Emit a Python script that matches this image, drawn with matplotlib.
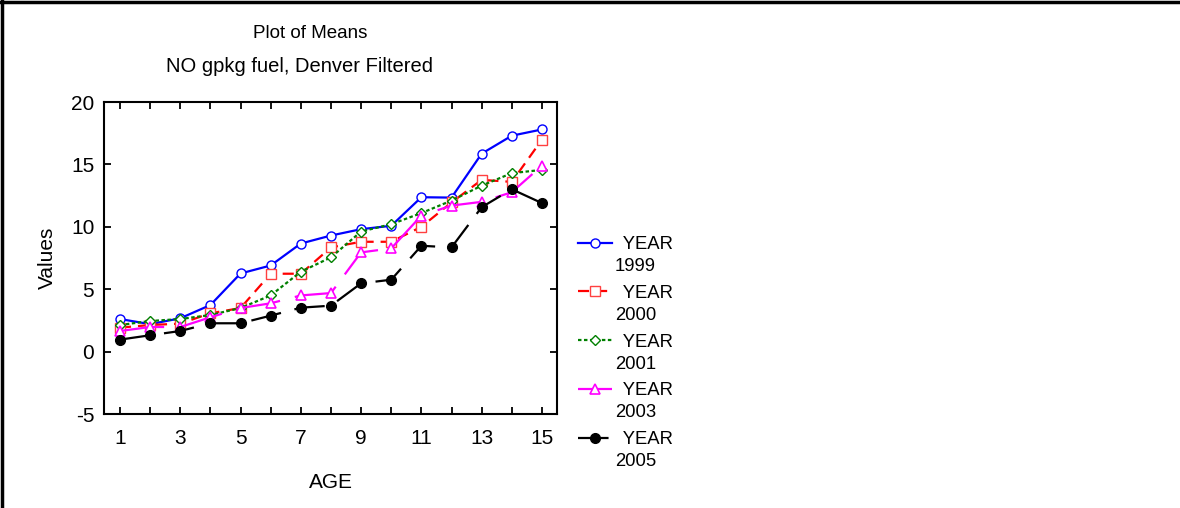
import matplotlib.pyplot as plt
import matplotlib.lines as mlines

plt.rcParams["font.family"] = ["Liberation Sans", "DejaVu Sans"]
plt.rcParams["lines.scale_dashes"] = False
plt.rcParams["axes.unicode_minus"] = False

# Mean values by age for each year
age = list(range(1, 16))
y1999 = [2.61, 2.2, 2.67, 3.73, 6.26, 6.9, 8.66, 9.3, 9.81, 10.08, 12.37, 12.34, 15.86, 17.3, 17.8]
y2000 = [1.92, 2.13, 2.24, 3.07, 3.49, 6.24, 6.24, 8.35, 8.8, 8.8, 10.0, 11.95, 13.76, 13.6, 16.98]
y2001 = [2.13, 2.45, 2.61, 2.93, 3.49, 4.5, 6.4, 7.55, 9.62, 10.21, 11.1, 12.1, 13.3, 14.3, 14.56]
y2003 = [1.65, 1.97, 1.97, 2.75, 3.49, 3.87, 4.5, 4.69, 7.95, 8.27, 10.9, 11.7, 12.0, 12.77, 14.9]
y2005 = [0.96, 1.31, 1.65, 2.27, 2.27, 2.88, 3.52, 3.68, 5.47, 5.76, 8.48, 8.35, 11.57, 13.01, 11.9]

years = ["1999", "2000", "2001", "2003", "2005"]
series = [y1999, y2000, y2001, y2003, y2005]

W, H = 1180, 508
fig = plt.figure(figsize=(W / 100, H / 100), dpi=100)
ax = fig.add_axes([104 / W, (H - 414) / H, 453 / W, 312 / H])

styles = [
    dict(color="#0000ff", ls="-", lw=1.6, marker="o", ms=6.5, mfc="white", mec="#0000ff", mew=1),
    dict(color="#ff0000", ls=(0, (8, 5)), lw=1.6, marker="s", ms=6.5, mfc="white", mec="#ff4040", mew=1),
    dict(color="#008000", ls=(0, (2.5, 1.8)), lw=1.6, marker="D", ms=4.8, mfc="white", mec="#008000", mew=1),
    dict(color="#ff00ff", ls=(0, (32, 11)), lw=1.6, marker="^", ms=7, mfc="white", mec="#ff00ff", mew=1.2),
    dict(color="black", ls=(0, (22, 10)), lw=1.6, marker="o", ms=7, mfc="black", mec="black", mew=1),
]

handles = []
for vals, st in zip(series, styles):
    line, = ax.plot(age, vals, **st)
    handles.append(line)

ax.set_xlim(0.47, 15.5)
ax.set_ylim(-5, 20)
ax.set_xticks(range(1, 16))
ax.set_xticklabels([str(a) if a % 2 == 1 else "" for a in age])
ax.set_yticks(range(-5, 21, 5))
ax.tick_params(direction="in", length=5, width=1.3, top=True, right=True, labelsize=15)
ax.tick_params(axis="x", pad=11)
ax.tick_params(axis="y", pad=7)
for sp in ax.spines.values():
    sp.set_linewidth(1.5)

ax.set_xlabel("AGE", fontsize=15, labelpad=18)
ax.set_ylabel("Values", fontsize=15, labelpad=10)

fig.text(310 / W, 1 - 33 / H, "Plot of Means", ha="center", va="center", fontsize=13.5)
fig.text(299 / W, 1 - 67 / H, "NO gpkg fuel, Denver Filtered", ha="center", va="center", fontsize=14.5)

leg = fig.legend(handles, [" YEAR"] * 5, loc="upper left",
                 bbox_to_anchor=(578 / W, 1 - 236 / H), frameon=False,
                 fontsize=13.3, handlelength=1.85, handletextpad=0.3,
                 labelspacing=1.72, borderpad=0, borderaxespad=0)

# Year numbers go on a second line under each legend label
fig.canvas.draw()
inv = fig.transFigure.inverted()
for txt, yr in zip(leg.get_texts(), years):
    bb = txt.get_window_extent().transformed(inv)
    fig.text(bb.x0 - 3 / W, bb.y0 - 5 / H, yr, ha="left", va="top", fontsize=13.3)

# Outer frame along the top and left edges
fig.add_artist(mlines.Line2D([0, 1], [1 - 1.5 / H, 1 - 1.5 / H], color="black", lw=2.5,
                             transform=fig.transFigure))
fig.add_artist(mlines.Line2D([1.5 / W, 1.5 / W], [0, 1], color="black", lw=2.5,
                             transform=fig.transFigure))

fig.savefig("out.png", dpi=100)
